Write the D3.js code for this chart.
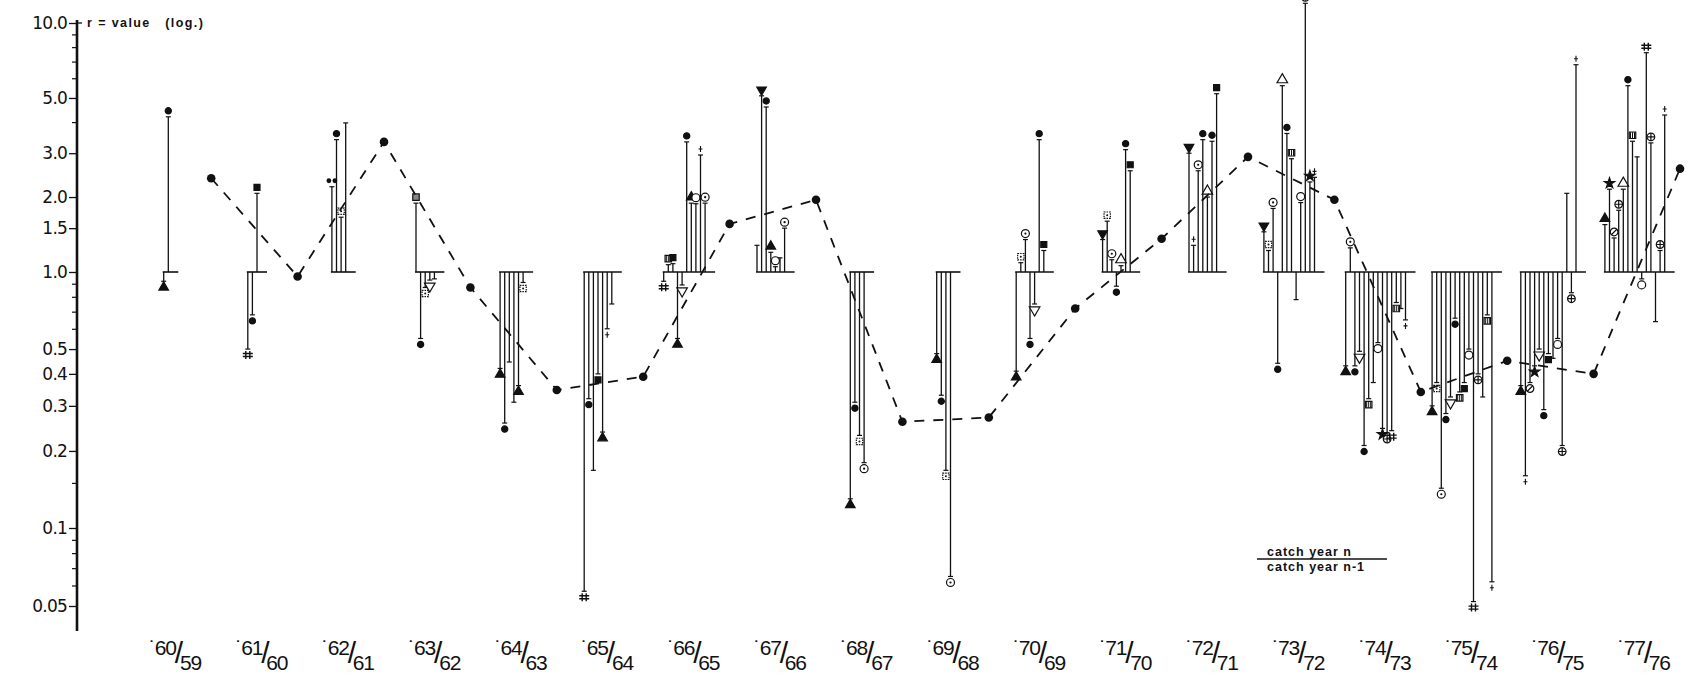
<!DOCTYPE html>
<html>
<head>
<meta charset="utf-8">
<script src="https://cdn.jsdelivr.net/npm/d3@7"></script>
<style>
  body { margin: 0; background: #fff; }
  svg { display: block; }
</style>
</head>
<body>
<div id="chart"></div>
<script>
// year pairs on the x axis
const yearPairs = ["60/59", "61/60", "62/61", "63/62", "64/63", "65/64", "66/65", "67/66", "68/67",
  "69/68", "70/69", "71/70", "72/71", "73/72", "74/73", "75/74", "76/75", "77/76"];

// dashed line: overall r value between the year groups
const meanR = [2.38, 0.96, 3.33, 0.87, 0.346, 0.39, 1.56, 1.95, 0.26, 0.27, 0.72, 1.36, 2.9, 1.95, 0.34, 0.45, 0.40, 2.6];

// r value of each species, per year pair (left to right)
const speciesR = [
  [0.92, 4.2],
  [0.5, 0.68, 2.07],
  [2.2, 3.4, 1.66, 3.97],
  [1.89, 0.55, 0.87, 0.93, 0.94],
  [0.42, 0.257, 0.445, 0.31, 0.36, 0.91],
  [0.057, 0.32, 0.168, 0.40, 0.237, 0.60, 0.75],
  [0.92, 1.07, 1.08, 0.55, 0.89, 3.33, 1.89, 1.88, 2.95, 1.89],
  [1.28, 5.1, 4.6, 1.2, 1.05, 1.14, 1.5],
  [0.13, 0.31, 0.23, 0.18],
  [0.48, 0.33, 0.168, 0.065],
  [0.41, 1.09, 1.35, 0.55, 0.75, 3.4, 1.22],
  [1.35, 1.6, 1.12, 0.88, 1.06, 3.1, 2.55],
  [3.0, 1.28, 2.55, 3.4, 2.0, 3.35, 5.2],
  [1.45, 1.22, 1.8, 0.44, 5.6, 3.6, 2.85, 0.78, 1.9, 12, 2.3, 2.4],
  [0.43, 1.25, 0.43, 0.49, 0.21, 0.32, 0.37, 0.53, 0.245, 0.235, 0.24, 0.76, 0.72, 0.65],
  [0.30, 0.37, 0.143, 0.28, 0.325, 0.66, 0.34, 0.37, 0.50, 0.052, 0.40, 0.325, 0.68, 0.062],
  [0.36, 0.16, 0.37, 0.43, 0.50, 0.29, 0.48, 0.46, 0.55, 0.21, 2.07, 0.83, 6.8],
  [1.55, 2.15, 1.37, 1.77, 2.15, 5.6, 3.35, 2.9, 0.94, 7.6, 3.3, 0.64, 1.22, 4.27]
];

// species symbol for each value above
const speciesMark = [
  ["tri", "dot"],
  ["hash", "dot", "square"],
  ["dbl", "dot", "sqdot", "none"],
  ["hatch", "dot", "sqdot", "oitri", "none"],
  ["tri", "dot", "none", "none", "tri", "sqdot"],
  ["hash", "dot", "none", "square", "tri", "plus", "none"],
  ["hash", "hatch", "square", "tri", "oitri", "dot", "tri", "circle", "plus", "circdot"],
  ["none", "itri", "dot", "tri", "circle", "none", "circdot"],
  ["tri", "dot", "sqdot", "circdot"],
  ["tri", "dot", "sqdot", "circdot"],
  ["tri", "sqdot", "circdot", "dot", "oitri", "dot", "square"],
  ["itri", "sqdot", "circdot", "dot", "otri", "dot", "square"],
  ["itri", "plus", "circdot", "dot", "otri", "dot", "square"],
  ["itri", "sqdot", "circdot", "dot", "otri", "dot", "hatch", "none", "circle", "cross", "star", "plus"],
  ["tri", "circdot", "dot", "oitri", "dot", "hatch", "none", "circle", "star", "cross", "hash", "hatch", "none", "plus"],
  ["tri", "sqdot", "circdot", "dot", "oitri", "dot", "hatch", "square", "circle", "hash", "cross", "none", "hatch", "plus"],
  ["tri", "plus", "slash", "star", "oitri", "dot", "square", "none", "circle", "cross", "none", "cross", "plus"],
  ["tri", "star", "slash", "cross", "otri", "dot", "hatch", "none", "circle", "hash", "cross", "none", "cross", "plus"]
];

const yTicks = [10, 5, 3, 2, 1.5, 1, 0.5, 0.4, 0.3, 0.2, 0.1, 0.05];
const yTickLabels = ["10.0", "5.0", "3.0", "2.0", "1.5", "1.0", "0.5", "0.4", "0.3", "0.2", "0.1", "0.05"];
const yMinorTicks = [9, 8, 7, 6, 4, 0.9, 0.8, 0.7, 0.6, 0.15, 0.09, 0.08, 0.07, 0.06];

const width = 1697, height = 685;
const barStep = 4.6;

const svg = d3.select('#chart')
  .append('svg')
  .attr('width', width)
  .attr('height', height);

// log scale, piecewise to follow the scanned axis
const y = d3.scaleLog()
  .domain([0.05, 0.1, 1, 10])
  .range([606, 528, 272, 23]);

const x = d3.scaleLinear()
  .domain([0, yearPairs.length - 0.5])
  .range([168, 1680]);

const axisX = 77;

// y axis
const yAxis = svg.append('g')
  .attr('transform', 'translate(' + axisX + ',0)')
  .call(d3.axisLeft(y).tickValues(yTicks).tickFormat((d, i) => yTickLabels[i]).tickSize(8).tickPadding(2));
yAxis.select('.domain').remove();
yAxis.selectAll('line').attr('stroke', '#111').attr('stroke-width', 1.3);
yAxis.selectAll('text')
  .attr('fill', '#111')
  .style('font-family', '"DejaVu Sans", sans-serif')
  .style('font-size', '17px')
  .style('letter-spacing', '-0.8px');

const yMinor = svg.append('g')
  .attr('transform', 'translate(' + axisX + ',0)')
  .call(d3.axisLeft(y).tickValues(yMinorTicks).tickFormat('').tickSize(5));
yMinor.select('.domain').remove();
yMinor.selectAll('line').attr('stroke', '#111').attr('stroke-width', 1.2);

svg.append('line')
  .attr('x1', axisX).attr('x2', axisX)
  .attr('y1', y(10) - 3).attr('y2', y(0.04))
  .attr('stroke', '#111').attr('stroke-width', 2.6);

svg.append('line')
  .attr('x1', axisX).attr('x2', axisX + 5)
  .attr('y1', y(10)).attr('y2', y(10))
  .attr('stroke', '#111').attr('stroke-width', 1.3);

svg.append('text')
  .attr('x', axisX + 10)
  .attr('y', y(10) + 4)
  .attr('fill', '#111')
  .style('font-family', '"Liberation Sans", Arial, sans-serif')
  .style('font-size', '12.5px')
  .style('font-weight', 'bold')
  .style('letter-spacing', '1.4px')
  .style('white-space', 'pre')
  .text('r = value   (log.)');

// x labels, drawn like '60/59 with the second year lowered
yearPairs.forEach((p, i) => {
  const parts = p.split('/');
  const t = svg.append('text')
    .attr('x', x(i) + 7)
    .attr('y', 655)
    .attr('text-anchor', 'middle')
    .attr('fill', '#111')
    .style('font-family', '"Liberation Sans", Arial, sans-serif')
    .style('font-size', '21px')
    .style('letter-spacing', '-1.2px');
  t.append('tspan').text('\u02D9' + parts[0]);
  t.append('tspan').attr('dy', 8).attr('dx', -1).style('font-size', '30px').style('font-weight', 'normal').text('/');
  t.append('tspan').attr('dy', 7).attr('dx', -2).text(parts[1]);
});

// symbols of the species
function drawMarker(g, type, cx, cy) {
  const m = g.append('g').attr('transform', 'translate(' + cx + ',' + cy + ')');
  const ink = '#111';
  const sym = (s, size, fill, rot) => m.append('path')
    .attr('d', d3.symbol().type(s).size(size)())
    .attr('transform', rot ? 'rotate(' + rot + ')' : null)
    .attr('fill', fill ? ink : '#fff')
    .attr('stroke', ink)
    .attr('stroke-width', 1.2);
  switch (type) {
    case 'dot': sym(d3.symbolCircle, 30, true); break;
    case 'circle': sym(d3.symbolCircle, 50, false); break;
    case 'circdot':
      sym(d3.symbolCircle, 50, false);
      m.append('circle').attr('r', 1.1).attr('fill', ink);
      break;
    case 'tri': sym(d3.symbolTriangle, 40, true); break;
    case 'otri': sym(d3.symbolTriangle, 48, false); break;
    case 'itri': sym(d3.symbolTriangle, 40, true, 180); break;
    case 'oitri': sym(d3.symbolTriangle, 48, false, 180); break;
    case 'square': sym(d3.symbolSquare, 36, true); break;
    case 'sqdot':
      sym(d3.symbolSquare, 40, false).attr('stroke-dasharray', '1.5,1');
      m.append('circle').attr('r', 1).attr('fill', ink);
      break;
    case 'hatch':
      sym(d3.symbolSquare, 42, false);
      m.append('path').attr('d', 'M-2,-3V3M0,-3V3M2,-3V3').attr('stroke', ink).attr('stroke-width', 1);
      break;
    case 'cross':
      sym(d3.symbolCircle, 46, false);
      m.append('path').attr('d', 'M-3.5,0H3.5M0,-3.5V3.5').attr('stroke', ink).attr('stroke-width', 1.2);
      break;
    case 'slash':
      sym(d3.symbolCircle, 46, false);
      m.append('path').attr('d', 'M-3,3L3,-3').attr('stroke', ink).attr('stroke-width', 1.2);
      break;
    case 'hash':
      m.append('path').attr('d', 'M-2,-4V4M2,-4V4M-5,-1.5H5M-5,1.5H5').attr('stroke', ink).attr('stroke-width', 1.4);
      break;
    case 'plus':
      m.append('path').attr('d', 'M-2,0H2M0,-3V3').attr('stroke', ink).attr('stroke-width', 1.1);
      break;
    case 'star': sym(d3.symbolStar, 34, true); break;
    case 'dbl':
      m.append('circle').attr('cx', -3).attr('r', 2.4).attr('fill', ink);
      m.append('circle').attr('cx', 3).attr('r', 2.4).attr('fill', ink);
      break;
    default: break;
  }
}

// species bars hanging from r = 1.0
const bars = svg.append('g');
speciesR.forEach((vals, i) => {
  const n = vals.length;
  const x0 = x(i) - 2 - (n - 1) * barStep / 2;
  const g = bars.append('g');

  g.append('line')
    .attr('x1', x0 - 1)
    .attr('x2', x0 + (n - 1) * barStep + 10)
    .attr('y1', y(1)).attr('y2', y(1))
    .attr('stroke', '#111').attr('stroke-width', 1.6);

  vals.forEach((v, j) => {
    const bx = x0 + j * barStep;
    const dir = v >= 1 ? -1 : 1;
    g.append('line')
      .attr('x1', bx).attr('x2', bx)
      .attr('y1', y(1)).attr('y2', y(v))
      .attr('stroke', '#111').attr('stroke-width', 1.3);
    g.append('line')
      .attr('x1', bx - 2.5).attr('x2', bx + 2.5)
      .attr('y1', y(v)).attr('y2', y(v))
      .attr('stroke', '#111').attr('stroke-width', 1.2);
    drawMarker(g, speciesMark[i][j], bx, y(v) + dir * 6);
  });
});

// dashed line of the overall r value
svg.append('path')
  .datum(meanR)
  .attr('fill', 'none')
  .attr('stroke', '#111')
  .attr('stroke-width', 1.8)
  .attr('stroke-dasharray', '10,9')
  .attr('d', d3.line()
    .x((d, i) => x(i + 0.5))
    .y(d => y(d)));

svg.selectAll('.meanPoint')
  .data(meanR)
  .enter()
  .append('circle')
  .attr('class', 'meanPoint')
  .attr('cx', (d, i) => x(i + 0.5))
  .attr('cy', d => y(d))
  .attr('r', 4.3)
  .attr('fill', '#111');

// r definition
const def = svg.append('g')
  .attr('fill', '#111')
  .style('font-family', '"Liberation Sans", Arial, sans-serif')
  .style('font-size', '12.5px')
  .style('font-weight', 'bold')
  .style('letter-spacing', '1px');
def.append('text').attr('x', 1267).attr('y', 556).text('catch year n');
def.append('line')
  .attr('x1', 1257).attr('x2', 1387)
  .attr('y1', 559).attr('y2', 559)
  .attr('stroke', '#111').attr('stroke-width', 1.4);
def.append('text').attr('x', 1267).attr('y', 571).text('catch year n-1');
</script>
</body>
</html>
